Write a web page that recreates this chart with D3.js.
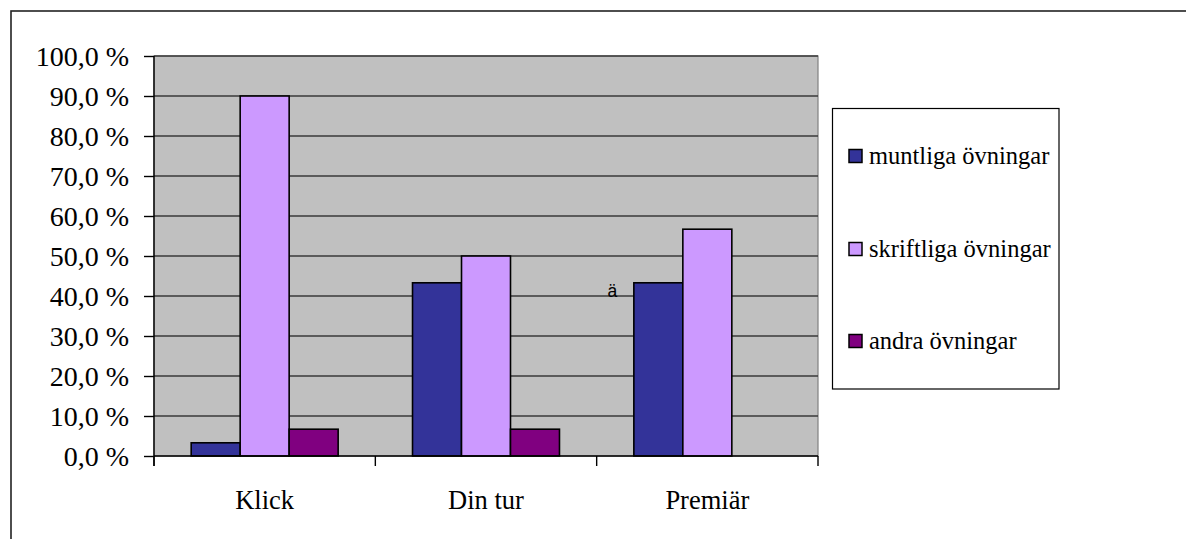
<!DOCTYPE html>
<html>
<head>
<meta charset="utf-8">
<script src="https://cdn.jsdelivr.net/npm/d3@7/dist/d3.min.js"></script>
<style>
html,body{margin:0;padding:0;background:#fff;}
svg{display:block;}
</style>
</head>
<body>
<svg id="chart" width="1186" height="539"></svg>
<script>
const categories = ["Klick", "Din tur", "Premiär"];
const seriesNames = ["muntliga övningar", "skriftliga övningar", "andra övningar"];
const muntliga = [3.3, 43.3, 43.3];
const skriftliga = [90.0, 50.0, 56.7];
const andra = [6.7, 6.7, 0.0];
const seriesValues = [muntliga, skriftliga, andra];
const seriesColors = ["#333399", "#cc99ff", "#800080"];
const yTicks = [0,10,20,30,40,50,60,70,80,90,100];

const serif = "'Liberation Serif','Times New Roman',Times,serif";
const svg = d3.select("#chart");
const plot = {left:154, top:56, right:818, bottom:456};

// outer chart border (extends beyond right/bottom edges)
svg.append("rect").attr("x",11).attr("y",11).attr("width",1200).attr("height",560)
  .attr("fill","none").attr("stroke","#222").attr("stroke-width",1.6);

const y = d3.scaleLinear().domain([0,100]).range([plot.bottom, plot.top]);
const x0 = d3.scaleBand().domain(categories).range([plot.left, plot.right]).padding(0);
const pad = x0.bandwidth()*0.168;
const x1 = d3.scaleBand().domain(d3.range(seriesNames.length)).range([pad, x0.bandwidth()-pad]).padding(0);

// plot background
svg.append("rect").attr("x",plot.left).attr("y",plot.top)
  .attr("width",plot.right-plot.left).attr("height",plot.bottom-plot.top)
  .attr("fill","#c0c0c0").attr("stroke","#808080").attr("stroke-width",1.2);

// gridlines
svg.append("g").selectAll("line").data(yTicks.filter(d=>d>0)).join("line")
  .attr("x1",plot.left).attr("x2",plot.right)
  .attr("y1",d=>y(d)).attr("y2",d=>y(d))
  .attr("stroke","#3a3a3a").attr("stroke-width",1.3);

// bars
const groups = svg.append("g").selectAll("g").data(seriesValues).join("g")
  .attr("fill",(d,i)=>seriesColors[i]);
groups.each(function(vals, si){
  d3.select(this).selectAll("rect").data(vals.map((v,ci)=>({v,ci}))).join("rect")
    .filter(d=>d.v>0)
    .attr("x",d=>x0(categories[d.ci])+x1(si))
    .attr("y",d=>y(d.v))
    .attr("width",x1.bandwidth())
    .attr("height",d=>y(0)-y(d.v))
    .attr("stroke","#000").attr("stroke-width",1.6);
});

// y axis
const yAxis = d3.axisLeft(y).tickValues(yTicks).tickSize(10).tickSizeOuter(0)
  .tickFormat(d=>d3.format(".1f")(d).replace(".",",")+" %");
const yg = svg.append("g").attr("transform",`translate(${plot.left},0)`).call(yAxis)
  .attr("font-family",serif);
yg.select(".domain").attr("stroke","#000").attr("stroke-width",1.4)
  .attr("d",`M0,${plot.top}V${plot.bottom+10}`);
yg.selectAll(".tick line").attr("stroke","#000").attr("stroke-width",1.4);
yg.selectAll(".tick text").attr("x",-25).attr("dy","0.34em")
  .attr("font-family",serif).attr("font-size",28).attr("fill","#000");

// x axis
const xg = svg.append("g").attr("transform",`translate(0,${plot.bottom})`);
xg.append("line").attr("x1",plot.left).attr("x2",plot.right).attr("y1",0).attr("y2",0)
  .attr("stroke","#000").attr("stroke-width",1.4);
const bounds = categories.map(c=>x0(c)).concat([plot.right]);
xg.selectAll("line.tk").data(bounds).join("line").attr("class","tk")
  .attr("x1",d=>d).attr("x2",d=>d).attr("y1",0).attr("y2",10)
  .attr("stroke","#000").attr("stroke-width",1.4);
xg.selectAll("text").data(categories).join("text")
  .attr("x",d=>x0(d)+x0.bandwidth()/2).attr("y",53)
  .attr("text-anchor","middle")
  .attr("font-family",serif).attr("font-size",26.5)
  .text(d=>d);

// stray character
svg.append("text").attr("x",607.5).attr("y",296.5)
  .attr("font-family","'Liberation Sans',Arial,sans-serif").attr("font-size",17.5).text("ä");

// legend
const lg = svg.append("g");
lg.append("rect").attr("x",832.5).attr("y",108.5).attr("width",226.5).attr("height",280.5)
  .attr("fill","#fff").attr("stroke","#000").attr("stroke-width",1.2);
const ly = [156, 249, 341];
const items = lg.selectAll("g.it").data(seriesNames).join("g").attr("class","it")
  .attr("transform",(d,i)=>`translate(0,${ly[i]})`);
items.append("rect").attr("x",849).attr("y",-6.5).attr("width",13).attr("height",13)
  .attr("fill",(d,i)=>seriesColors[i]).attr("stroke","#000").attr("stroke-width",1.5);
items.append("text").attr("x",869).attr("y",8)
  .attr("font-family",serif).attr("font-size",24.5)
  .text(d=>d);
</script>
</body>
</html>
